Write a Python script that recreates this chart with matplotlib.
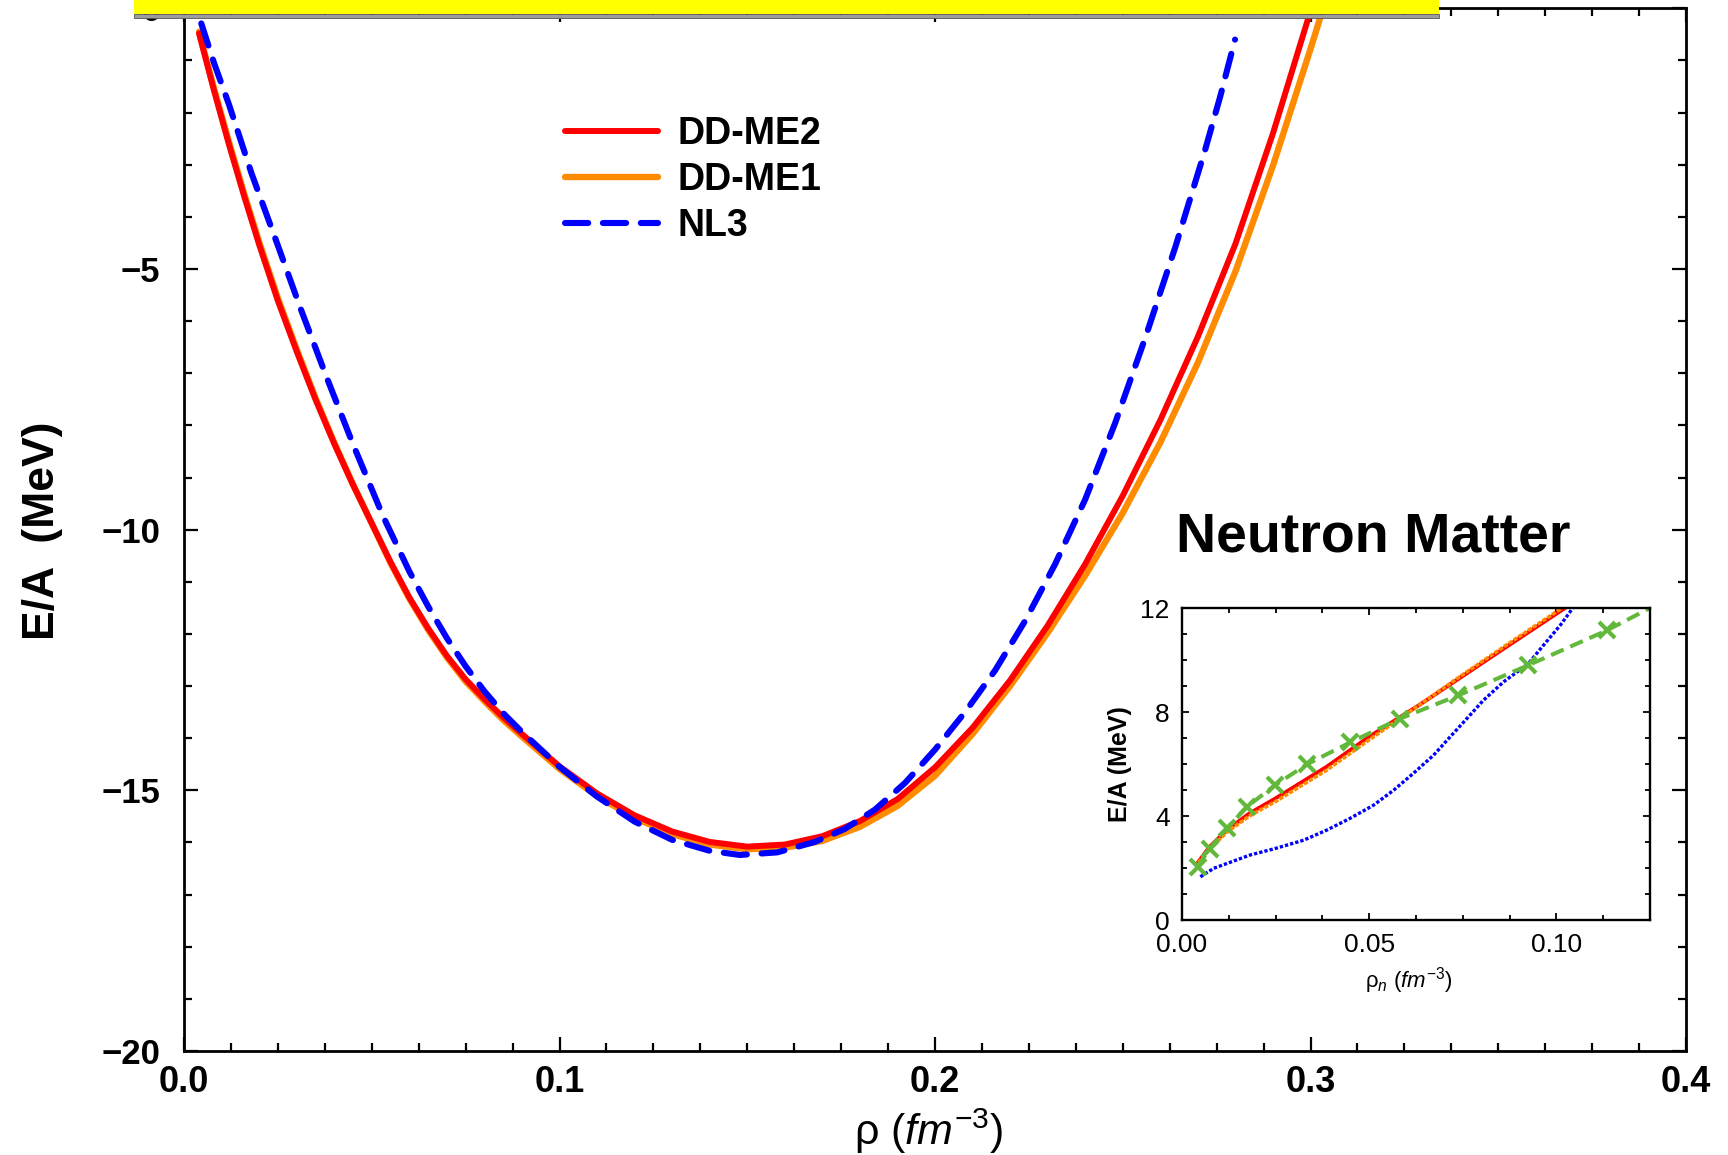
import matplotlib
matplotlib.use('Agg')
import matplotlib.pyplot as plt
from matplotlib.patches import Rectangle
from matplotlib.ticker import MultipleLocator, FixedLocator, FixedFormatter
from matplotlib import font_manager as fm

# ---------------- data ----------------
# Symmetric nuclear matter, main panel
rho_ddme2 = [0.004, 0.008, 0.012, 0.016, 0.020, 0.025, 0.030, 0.035, 0.040, 0.045,
             0.050, 0.055, 0.060, 0.065, 0.070, 0.075, 0.080, 0.085, 0.090, 0.100,
             0.110, 0.120, 0.130, 0.140, 0.150, 0.160, 0.170, 0.180, 0.190, 0.200,
             0.210, 0.220, 0.230, 0.240, 0.250, 0.260, 0.270, 0.280, 0.290, 0.300, 0.302]
ea_ddme2 = [-0.48, -1.58, -2.62, -3.60, -4.53, -5.61, -6.58, -7.50, -8.35, -9.14,
            -9.88, -10.62, -11.30, -11.89, -12.42, -12.87, -13.25, -13.60, -13.92, -14.54,
            -15.06, -15.48, -15.79, -15.99, -16.08, -16.04, -15.88, -15.59, -15.17, -14.56,
            -13.80, -12.89, -11.84, -10.66, -9.35, -7.90, -6.30, -4.52, -2.40, -0.05, 0.45]

rho_ddme1 = [0.004, 0.008, 0.012, 0.016, 0.020, 0.025, 0.030, 0.035, 0.040, 0.045,
             0.050, 0.055, 0.060, 0.065, 0.070, 0.075, 0.080, 0.085, 0.090, 0.100,
             0.110, 0.120, 0.130, 0.140, 0.150, 0.160, 0.170, 0.180, 0.190, 0.200,
             0.210, 0.220, 0.230, 0.240, 0.250, 0.260, 0.270, 0.280, 0.290, 0.300, 0.304]
ea_ddme1 = [-0.45, -1.54, -2.57, -3.55, -4.48, -5.56, -6.54, -7.47, -8.33, -9.13,
            -9.88, -10.64, -11.32, -11.92, -12.45, -12.91, -13.29, -13.65, -13.97, -14.59,
            -15.11, -15.53, -15.84, -16.04, -16.13, -16.10, -15.97, -15.70, -15.30, -14.72,
            -13.92, -13.00, -11.98, -10.88, -9.68, -8.33, -6.80, -5.05, -3.02, -0.78, 0.15]

rho_nl3 = [0.0046, 0.008, 0.012, 0.018, 0.025, 0.031, 0.038, 0.045, 0.053, 0.060,
           0.065, 0.070, 0.075, 0.080, 0.085, 0.090, 0.100, 0.110, 0.120, 0.130,
           0.140, 0.148, 0.158, 0.168, 0.176, 0.184, 0.192, 0.200, 0.208, 0.216,
           0.224, 0.232, 0.240, 0.248, 0.256, 0.264, 0.272, 0.276, 0.2799]
ea_nl3 = [-0.29, -1.05, -1.85, -3.17, -4.55, -5.75, -7.08, -8.36, -9.74, -10.80,
          -11.47, -12.08, -12.62, -13.10, -13.52, -13.88, -14.55, -15.12, -15.60, -15.95,
          -16.16, -16.24, -16.19, -15.99, -15.74, -15.37, -14.86, -14.22, -13.50, -12.70,
          -11.75, -10.66, -9.42, -7.95, -6.32, -4.58, -2.70, -1.68, -0.60]

# Neutron matter, inset
rho_n_ddme2 = [0.0044, 0.0073, 0.0120, 0.0180, 0.0249, 0.0386, 0.0500, 0.0637, 0.0739, 0.0871, 0.1023]
ea_n_ddme2 = [2.24, 2.80, 3.46, 4.10, 4.67, 5.89, 7.05, 8.30, 9.28, 10.55, 12.0]
rho_n_ddme1 = [0.0044, 0.0073, 0.0120, 0.0180, 0.0249, 0.0386, 0.0500, 0.0637, 0.0739, 0.0871, 0.1015]
ea_n_ddme1 = [2.20, 2.72, 3.38, 4.00, 4.55, 5.76, 6.93, 8.30, 9.33, 10.62, 12.0]
rho_n_nl3 = [0.0049, 0.0085, 0.0182, 0.0249, 0.0325, 0.0387, 0.0449, 0.0512, 0.0565, 0.0618,
             0.0672, 0.0716, 0.0761, 0.0805, 0.0859, 0.0925, 0.0965, 0.1010, 0.1044]
ea_n_nl3 = [1.66, 1.99, 2.50, 2.75, 3.07, 3.46, 3.91, 4.42, 4.99, 5.64,
            6.34, 7.04, 7.75, 8.45, 9.16, 9.86, 10.56, 11.33, 12.0]
rho_n_micro = [0.0042, 0.0074, 0.0120, 0.0173, 0.0249, 0.0334, 0.0449, 0.0583, 0.0738, 0.0925, 0.1135, 0.1250]
ea_n_micro = [2.05, 2.75, 3.52, 4.35, 5.19, 5.99, 6.83, 7.75, 8.64, 9.80, 11.14, 12.0]

labels = ['DD-ME2', 'DD-ME1', 'NL3']
main_xticks = [0.0, 0.1, 0.2, 0.3, 0.4]
main_xticklabels = ['0.0', '0.1', '0.2', '0.3', '0.4']
main_yticks = [-20, -15, -10, -5, 0]
main_yticklabels = ['\u221220', '\u221215', '\u221210', '\u22125', '0']
inset_xticks = [0.0, 0.05, 0.10]
inset_xticklabels = ['0.00', '0.05', '0.10']
inset_yticks = [0, 4, 8, 12]
inset_yticklabels = ['0', '4', '8', '12']

# ---------------- styling ----------------
RED = '#ff0000'
ORANGE = '#ff8c00'
BLUE = '#0000ff'
GREEN = '#62b83a'


def has_font(name):
    try:
        fm.findfont(fm.FontProperties(family=name), fallback_to_default=False)
        return True
    except Exception:
        return False


NARROW = 'Liberation Sans Narrow' if has_font('Liberation Sans Narrow') else 'Liberation Sans'
plt.rcParams['font.family'] = ['Liberation Sans', 'DejaVu Sans']
plt.rcParams['mathtext.fontset'] = 'custom'
plt.rcParams['mathtext.rm'] = 'Liberation Sans'
plt.rcParams['mathtext.it'] = 'Liberation Sans:italic'
plt.rcParams['mathtext.bf'] = 'Liberation Sans:bold'

W, H = 1728, 1155
fig = plt.figure(figsize=(W / 100, H / 100), dpi=100)
fig.patch.set_facecolor('white')

# ---------------- main axes ----------------
L, R, T, B = 184, 1686, 8.3, 1051
ax = fig.add_axes([L / W, 1 - B / H, (R - L) / W, (B - T) / H])
ax.set_xlim(0.0, 0.4)
ax.set_ylim(-20, 0)

l_me1, = ax.plot(rho_ddme1, ea_ddme1, color=ORANGE, lw=4.6, solid_capstyle='round', label=labels[1])
l_me2, = ax.plot(rho_ddme2, ea_ddme2, color=RED, lw=4.3, solid_capstyle='round', label=labels[0])
l_nl3, = ax.plot(rho_nl3, ea_nl3, color=BLUE, lw=4.4, linestyle=(0, (3.8, 2.4)),
                 dash_capstyle='round', label=labels[2])

ax.xaxis.set_major_locator(FixedLocator(main_xticks))
ax.xaxis.set_major_formatter(FixedFormatter(main_xticklabels))
ax.xaxis.set_minor_locator(MultipleLocator(0.0125))
ax.yaxis.set_major_locator(FixedLocator(main_yticks))
ax.yaxis.set_major_formatter(FixedFormatter(main_yticklabels))
ax.yaxis.set_minor_locator(MultipleLocator(1))
ax.tick_params(which='both', direction='in', top=True, right=True, width=1.6, color='black')
ax.tick_params(which='major', length=10)
ax.tick_params(which='minor', length=5.5)
ax.tick_params(axis='x', which='major', pad=10, labelsize=26)
ax.tick_params(axis='y', which='major', pad=17, labelsize=25)
for lab in ax.get_xticklabels() + ax.get_yticklabels():
    lab.set_fontweight('bold')
for s in ax.spines.values():
    s.set_linewidth(2.0)

ax.set_xlabel('ρ $\\mathit{(fm^{-3})}$', fontsize=31)
ax.xaxis.set_label_coords((929 - L) / (R - L), (B - 1131) / (B - T))
ax.xaxis.label.set_va('center')
ax.set_ylabel('E/A  (MeV)', fontsize=32, fontweight='bold')
ax.yaxis.set_label_coords((43 - L) / (R - L), (B - 531) / (B - T))
ax.yaxis.label.set_va('center')
ax.yaxis.label.set_ha('center')

leg = ax.legend(handles=[l_me2, l_me1, l_nl3], loc='upper left',
                bbox_to_anchor=(565 / W, 1 - 116 / H), bbox_transform=fig.transFigure,
                frameon=False, borderpad=0, borderaxespad=0,
                handlelength=2.48, handletextpad=0.53, labelspacing=0.27,
                prop={'family': 'Liberation Sans', 'weight': 'bold', 'size': 27})

# ---------------- inset ----------------
iL, iR, iT, iB = 1182, 1650, 608, 920
axi = fig.add_axes([iL / W, 1 - iB / H, (iR - iL) / W, (iB - iT) / H])
axi.set_xlim(0.0, 0.125)
axi.set_ylim(0, 12)
axi.plot(rho_n_ddme2, ea_n_ddme2, color=RED, lw=2.8)
axi.plot(rho_n_ddme1, ea_n_ddme1, color=ORANGE, lw=2.6, linestyle=(0, (1.2, 0.4)))
axi.plot(rho_n_nl3, ea_n_nl3, color=BLUE, lw=2.4, linestyle=(0, (1, 0.6)))
axi.plot(rho_n_micro, ea_n_micro, color=GREEN, lw=2.9, linestyle=(0, (3.4, 1.8)),
         marker='x', markersize=11, markeredgewidth=3.0, markevery=list(range(len(rho_n_micro) - 1)))
axi.xaxis.set_major_locator(FixedLocator(inset_xticks))
axi.xaxis.set_major_formatter(FixedFormatter(inset_xticklabels))
axi.xaxis.set_minor_locator(MultipleLocator(0.0125))
axi.yaxis.set_major_locator(FixedLocator(inset_yticks))
axi.yaxis.set_major_formatter(FixedFormatter(inset_yticklabels))
axi.yaxis.set_minor_locator(MultipleLocator(1))
axi.tick_params(which='both', direction='in', top=True, right=True, width=1.3)
axi.tick_params(which='major', length=5)
axi.tick_params(which='minor', length=3.5)
axi.tick_params(which='major', labelsize=19, pad=9)
for lab in axi.get_xticklabels() + axi.get_yticklabels():
    lab.set_fontfamily(NARROW)
for s in axi.spines.values():
    s.set_linewidth(1.7)
axi.set_xlabel('ρ$_{\\mathit{n}}$ $\\mathit{(fm^{-3})}$', fontsize=16, fontfamily=NARROW)
axi.xaxis.set_label_coords((1409 - iL) / (iR - iL), (iB - 981) / (iB - iT))
axi.xaxis.label.set_va('center')
axi.set_ylabel('E/A (MeV)', fontsize=18, fontweight='bold')
axi.yaxis.set_label_coords((1120 - iL) / (iR - iL), (iB - 764) / (iB - iT))
axi.yaxis.label.set_va('center')
axi.yaxis.label.set_ha('center')

fig.text(1373 / W, 1 - 552 / H, 'Neutron Matter', fontsize=40, fontweight='bold',
         ha='center', va='baseline')

# ---------------- yellow banner across the top ----------------
fig.add_artist(Rectangle((134 / W, 1 - 14 / H), (1439 - 134) / W, 14 / H,
                         transform=fig.transFigure, facecolor='#ffff00', edgecolor='none', zorder=10))
fig.add_artist(Rectangle((134 / W, 1 - 18 / H), (1439 - 134) / W, 4 / H,
                         transform=fig.transFigure, facecolor='#9c9c9c', edgecolor='#555555',
                         linewidth=0.6, zorder=10))

fig.savefig('out.png', dpi=100)
